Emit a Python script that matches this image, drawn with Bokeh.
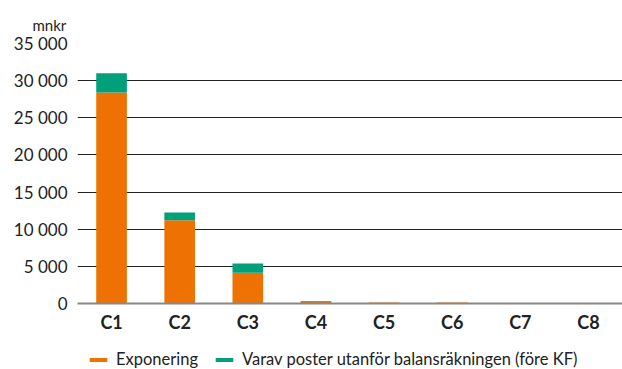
from bokeh.plotting import figure
from bokeh.layouts import column
from bokeh.models import Range1d, Legend, LegendItem, FixedTicker, ColumnDataSource
from bokeh.embed import file_html
from bokeh.resources import INLINE

categories = ["C1", "C2", "C3", "C4", "C5", "C6", "C7", "C8"]
exponering = [28400, 11200, 4150, 350, 120, 120, 60, 60]
varav = [2600, 1050, 1230, 0, 10, 10, 10, 10]
y_ticks = [0, 5000, 10000, 15000, 20000, 25000, 30000, 35000]
y_tick_labels = ["0", "5 000", "10 000", "15 000", "20 000", "25 000", "30 000", "35 000"]
series_labels = ["Exponering", "Varav poster utanför balansräkningen (före KF)"]
colors = ["#EE7203", "#00A07A"]
FONT = "Lato"

source = ColumnDataSource(dict(cat=categories, exp=exponering, var=varav))

p = figure(x_range=categories, y_range=Range1d(0, 35000), width=622, height=338,
           output_backend="svg", toolbar_location=None,
           min_border_left=77, min_border_right=0, min_border_top=43, min_border_bottom=35)

renderers = p.vbar_stack(["exp", "var"], x="cat", width=0.45, fill_color=colors,
                         line_color=None, source=source)

p.title.text = "mnkr"
p.title.text_font = FONT
p.title.text_font_size = "15px"
p.title.text_font_style = "normal"
p.title.text_color = "#222222"
p.title.align = "left"
p.title.offset = -45
p.title.standoff = 20

p.outline_line_color = None
p.xgrid.grid_line_color = None
p.ygrid.grid_line_color = "#222222"
p.ygrid.grid_line_width = 1
p.ygrid.ticker = FixedTicker(ticks=y_ticks)

p.yaxis.ticker = FixedTicker(ticks=y_ticks)
p.yaxis.major_label_overrides = {t: l for t, l in zip(y_ticks, y_tick_labels)}
p.yaxis.axis_line_color = None
p.yaxis.major_tick_line_color = None
p.yaxis.major_tick_out = 0
p.yaxis.major_tick_in = 0
p.yaxis.minor_tick_line_color = None
p.yaxis.major_label_text_font = FONT
p.yaxis.major_label_text_font_size = "17px"
p.yaxis.major_label_text_color = "#222222"
p.yaxis.major_label_standoff = 10

p.xaxis.axis_line_color = "#888888"
p.xaxis.axis_line_width = 2
p.xaxis.major_tick_line_color = None
p.xaxis.major_tick_out = 0
p.xaxis.major_tick_in = 0
p.xaxis.minor_tick_line_color = None
p.xaxis.major_label_text_font = FONT
p.xaxis.major_label_text_font_size = "18px"
p.xaxis.major_label_text_font_style = "bold"
p.xaxis.major_label_text_color = "#222222"
p.xaxis.major_label_standoff = 7

# legend in a separate strip below the chart (zero-height swatch renderers)
lf = figure(width=622, height=31, output_backend="svg", toolbar_location=None,
            x_range=Range1d(0, 1), y_range=Range1d(0, 1),
            x_axis_type=None, y_axis_type=None, min_border=0)
lf.outline_line_color = None
lf.xgrid.grid_line_color = None
lf.ygrid.grid_line_color = None
leg_r = [lf.vbar(x=[0.5], top=[0], width=0.1, fill_color=c, line_color=None) for c in colors]

legend = Legend(items=[LegendItem(label=series_labels[i], renderers=[leg_r[i]]) for i in range(2)],
                orientation="horizontal", location=(10, 0),
                border_line_color=None, background_fill_alpha=0,
                label_text_font=FONT, label_text_font_size="16.5px", label_text_color="#222222",
                glyph_width=22, glyph_height=5, label_standoff=7, spacing=15,
                padding=0, margin=0)
lf.add_layout(legend, "center")

layout = column(p, lf, spacing=0)
open("out.html", "w").write(file_html(layout, INLINE))
